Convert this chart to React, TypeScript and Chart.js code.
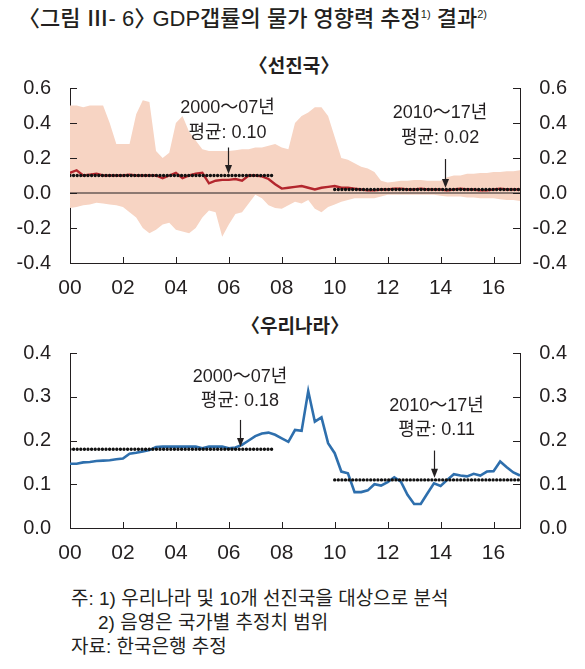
import React, { useEffect, useRef } from "react";
import { Chart, registerables } from "chart.js";

Chart.register(...registerables);

// ---------- DATA (quarterly, 2000Q1 .. 2017Q1) ----------
const START_YEAR = 2000;
const X_MAX = 17; // years after 2000 at right edge of plot
const X_TICKS = [0, 2, 4, 6, 8, 10, 12, 14, 16];
const X_TICK_LABELS = ["00", "02", "04", "06", "08", "10", "12", "14", "16"];

const ADV_TICKS = [-0.4, -0.2, 0.0, 0.2, 0.4, 0.6];
const KOR_TICKS = [0.0, 0.1, 0.2, 0.3, 0.4];

// 선진국 추정치 (평균)
const ADV_EST = [
  0.115, 0.13, 0.10, 0.105, 0.11, 0.10, 0.10, 0.10,
  0.10, 0.105, 0.10, 0.10, 0.10, 0.10, 0.085, 0.10,
  0.115, 0.085, 0.10, 0.11, 0.115, 0.055, 0.07, 0.075,
  0.075, 0.08, 0.07, 0.10, 0.10, 0.095, 0.08, 0.05,
  0.025, 0.03, 0.035, 0.04, 0.03, 0.02, 0.03, 0.035,
  0.04, 0.03, 0.03, 0.025, 0.02, 0.015, 0.015, 0.02,
  0.02, 0.025, 0.025, 0.02, 0.02, 0.025, 0.02, 0.02,
  0.02, 0.015, 0.02, 0.025, 0.02, 0.02, 0.015, 0.015,
  0.02, 0.025, 0.02, 0.02, 0.02,
];
// 국가별 추정치 범위 상단
const ADV_UPPER = [
  0.50, 0.50, 0.49, 0.50, 0.50, 0.50, 0.40, 0.28,
  0.28, 0.28, 0.45, 0.53, 0.52, 0.24, 0.20, 0.23,
  0.40, 0.44, 0.35, 0.30, 0.25, 0.24, 0.24, 0.24,
  0.24, 0.245, 0.25, 0.25, 0.26, 0.26, 0.27, 0.28,
  0.26, 0.25, 0.40, 0.44, 0.46, 0.49, 0.49, 0.44,
  0.32, 0.20, 0.19, 0.17, 0.15, 0.14, 0.12, 0.07,
  0.06, 0.065, 0.07, 0.07, 0.075, 0.075, 0.07, 0.07,
  0.07, 0.09, 0.10, 0.10, 0.11, 0.11, 0.115, 0.115,
  0.12, 0.12, 0.125, 0.125, 0.13,
];
// 국가별 추정치 범위 하단
const ADV_LOWER = [
  -0.085, -0.08, -0.07, -0.065, -0.055, -0.06, -0.065, -0.07,
  -0.08, -0.11, -0.14, -0.20, -0.23, -0.21, -0.18, -0.17,
  -0.21, -0.22, -0.23, -0.20, -0.14, -0.10, -0.11, -0.25,
  -0.18, -0.12, -0.11, -0.06, -0.01, -0.03, -0.07, -0.085,
  -0.09, -0.07, -0.05, -0.06, -0.04, -0.09, -0.11, -0.08,
  -0.065, -0.05, -0.04, -0.03, -0.03, -0.03, -0.03, -0.02,
  -0.01, -0.01, -0.01, -0.01, -0.01, -0.01, -0.01, -0.01,
  -0.015, -0.02, -0.02, -0.02, -0.025, -0.025, -0.03, -0.03,
  -0.03, -0.035, -0.04, -0.04, -0.045,
];
// 우리나라 추정치
const KOR_EST = [
  0.147, 0.147, 0.150, 0.151, 0.153, 0.154, 0.155, 0.157,
  0.159, 0.170, 0.172, 0.175, 0.178, 0.185, 0.186, 0.186,
  0.186, 0.186, 0.186, 0.186, 0.182, 0.186, 0.186, 0.186,
  0.182, 0.184, 0.190, 0.200, 0.210, 0.216, 0.218, 0.213,
  0.205, 0.197, 0.224, 0.222, 0.313, 0.243, 0.253, 0.194,
  0.171, 0.129, 0.125, 0.082, 0.082, 0.086, 0.100, 0.097,
  0.105, 0.116, 0.106, 0.076, 0.055, 0.055, 0.079, 0.102,
  0.096, 0.110, 0.123, 0.120, 0.118, 0.124, 0.120, 0.129,
  0.130, 0.152, 0.139, 0.127, 0.120,
];

// period averages
const ADV_AVG_0007 = { from: 0, to: 7.75, value: 0.1 };
const ADV_AVG_1017 = { from: 10, to: 17, value: 0.02 };
const KOR_AVG_0007 = { from: 0, to: 7.75, value: 0.18 };
const KOR_AVG_1017 = { from: 10, to: 17, value: 0.11 };

const ADV_NOTES = [
  { x: 5.97, top: 0.26, tip: 0.108, textX: 5.95, y1: 0.487, y2: 0.345, line1: "2000～07년", line2: "평균: 0.10" },
  { x: 14.17, top: 0.194, tip: 0.028, textX: 13.98, y1: 0.459, y2: 0.314, line1: "2010～17년", line2: "평균: 0.02" },
];
const KOR_NOTES = [
  { x: 6.42, top: 0.247, tip: 0.185, textX: 6.42, y1: 0.345, y2: 0.29, line1: "2000～07년", line2: "평균: 0.18" },
  { x: 13.75, top: 0.177, tip: 0.115, textX: 13.85, y1: 0.279, y2: 0.224, line1: "2010～17년", line2: "평균: 0.11" },
];

// ---------- STYLE ----------
const INK = "#231f20";
const RED = "#b3262d";
const BLUE = "#2e6fad";
const BAND = "#f7d4c3";
const NUM_FONT = '"Liberation Sans", "Noto Sans CJK KR", sans-serif';

const toPoints = (vals: number[]) => vals.map((v, i) => ({ x: i / 4, y: v }));
const avgLine = (a: { from: number; to: number; value: number }) => [
  { x: a.from, y: a.value },
  { x: a.to, y: a.value },
];

const frameTicksPlugin = {
  id: "frameTicks",
  afterDatasetsDraw(chart: any) {
    const { ctx, chartArea, scales } = chart;
    ctx.save();
    ctx.strokeStyle = INK;
    ctx.lineWidth = 1;
    const xs = scales.x;
    X_TICKS.forEach((v) => {
      if (v === 0) return;
      const px = Math.round(xs.getPixelForValue(v)) + 0.5;
      ctx.beginPath();
      ctx.moveTo(px, chartArea.bottom);
      ctx.lineTo(px, chartArea.bottom - 6);
      ctx.stroke();
    });
    const ys = scales.y;
    const yt: number[] = chart.options.plugins.frameTicks.ticks;
    yt.forEach((v) => {
      if (v === ys.min) return;
      const py = Math.round(ys.getPixelForValue(v)) + 0.5;
      ctx.beginPath();
      ctx.moveTo(chartArea.left, py);
      ctx.lineTo(chartArea.left + 7, py);
      ctx.moveTo(chartArea.right, py);
      ctx.lineTo(chartArea.right - 7, py);
      ctx.stroke();
    });
    ctx.restore();
  },
};

const notesPlugin = {
  id: "notes",
  afterDatasetsDraw(chart: any) {
    const items = chart.options.plugins.notes.items;
    const { ctx, scales } = chart;
    const xs = scales.x;
    const ys = scales.y;
    ctx.save();
    ctx.fillStyle = INK;
    ctx.strokeStyle = INK;
    ctx.font = `18px ${NUM_FONT}`;
    ctx.textAlign = "center";
    ctx.textBaseline = "middle";
    items.forEach((n: any) => {
      const tx = xs.getPixelForValue(n.textX);
      ctx.fillText(n.line1, tx, ys.getPixelForValue(n.y1));
      ctx.fillText(n.line2, tx, ys.getPixelForValue(n.y2));
      const ax = Math.round(xs.getPixelForValue(n.x)) + 0.5;
      const yTop = ys.getPixelForValue(n.top);
      const yTip = ys.getPixelForValue(n.tip);
      ctx.lineWidth = 1.2;
      ctx.beginPath();
      ctx.moveTo(ax, yTop);
      ctx.lineTo(ax, yTip - 8);
      ctx.stroke();
      ctx.beginPath();
      ctx.moveTo(ax - 3.5, yTip - 9);
      ctx.lineTo(ax + 3.5, yTip - 9);
      ctx.lineTo(ax, yTip);
      ctx.closePath();
      ctx.fill();
    });
    ctx.restore();
  },
};

function axes(min: number, max: number, ticks: number[]) {
  const tickLabel = (v: number) => v.toFixed(1);
  const yBase = {
    min,
    max,
    afterBuildTicks: (s: any) => {
      s.ticks = ticks.map((v) => ({ value: v }));
    },
    grid: { display: false },
    border: { display: true, color: INK, width: 1 },
  };
  return {
    x: {
      type: "linear",
      min: 0,
      max: X_MAX,
      afterBuildTicks: (s: any) => {
        s.ticks = X_TICKS.map((v) => ({ value: v }));
      },
      afterFit: (s: any) => {
        s.height = 47;
        s.paddingLeft = 0;
        s.paddingRight = 0;
      },
      grid: { display: false },
      border: { display: true, color: INK, width: 1 },
      ticks: {
        autoSkip: false,
        maxRotation: 0,
        padding: 5,
        color: INK,
        font: { family: NUM_FONT, size: 21 },
        callback: (v: number) => X_TICK_LABELS[X_TICKS.indexOf(v)] ?? "",
      },
    },
    y: {
      ...yBase,
      position: "left",
      afterFit: (s: any) => {
        s.width = 70;
        s.paddingTop = 0;
        s.paddingBottom = 0;
      },
      ticks: {
        padding: 11,
        color: INK,
        font: { family: NUM_FONT, size: 20 },
        callback: tickLabel,
      },
    },
    y2: {
      ...yBase,
      position: "right",
      afterFit: (s: any) => {
        s.width = 47;
        s.paddingTop = 0;
        s.paddingBottom = 0;
      },
      ticks: {
        padding: 0,
        crossAlign: "far",
        color: INK,
        font: { family: NUM_FONT, size: 20 },
        callback: tickLabel,
      },
    },
  };
}

const dotted = (data: any[]) => ({
  data,
  borderColor: "#111",
  borderWidth: 3.4,
  borderDash: [0, 3.6],
  borderCapStyle: "round",
  pointRadius: 0,
  fill: false,
  yAxisID: "y",
});

function useChart(ref: React.RefObject<HTMLCanvasElement>, build: () => any) {
  useEffect(() => {
    if (!ref.current) return;
    const chart = new Chart(ref.current, build());
    return () => chart.destroy();
  }, []);
}

const baseOptions = (notes: any[], ticks: number[], min: number, max: number) => ({
  responsive: false,
  animation: false,
  events: [],
  layout: { padding: { top: 13, right: 18, bottom: 0, left: 0 } },
  elements: { line: { tension: 0 } },
  plugins: {
    legend: { display: false },
    tooltip: { enabled: false },
    notes: { items: notes },
    frameTicks: { ticks },
  },
  scales: axes(min, max, ticks),
});

function AdvancedChart() {
  const ref = useRef<HTMLCanvasElement>(null);
  useChart(ref, () => ({
    type: "line",
    data: {
      datasets: [
        dotted(avgLine(ADV_AVG_0007)),
        dotted(avgLine(ADV_AVG_1017)),
        {
          data: toPoints(ADV_EST),
          borderColor: RED,
          borderWidth: 2.4,
          pointRadius: 0,
          fill: false,
          yAxisID: "y",
        },
        {
          data: [
            { x: 0, y: 0 },
            { x: X_MAX, y: 0 },
          ],
          borderColor: INK,
          borderWidth: 1,
          pointRadius: 0,
          fill: false,
          yAxisID: "y",
        },
        {
          data: toPoints(ADV_UPPER),
          borderWidth: 0,
          borderColor: "rgba(0,0,0,0)",
          backgroundColor: BAND,
          pointRadius: 0,
          fill: "+1",
          yAxisID: "y",
        },
        {
          data: toPoints(ADV_LOWER),
          borderWidth: 0,
          borderColor: "rgba(0,0,0,0)",
          pointRadius: 0,
          fill: false,
          yAxisID: "y",
        },
      ],
    },
    options: baseOptions(ADV_NOTES, ADV_TICKS, -0.4, 0.6),
    plugins: [frameTicksPlugin, notesPlugin],
  }));
  return <canvas ref={ref} width={585} height={235} style={{ width: 585, height: 235, display: "block" }} />;
}

function KoreaChart() {
  const ref = useRef<HTMLCanvasElement>(null);
  useChart(ref, () => ({
    type: "line",
    data: {
      datasets: [
        dotted(avgLine(KOR_AVG_0007)),
        dotted(avgLine(KOR_AVG_1017)),
        {
          data: toPoints(KOR_EST),
          borderColor: BLUE,
          borderWidth: 2.6,
          pointRadius: 0,
          fill: false,
          yAxisID: "y",
        },
      ],
    },
    options: baseOptions(KOR_NOTES, KOR_TICKS, 0, 0.4),
    plugins: [frameTicksPlugin, notesPlugin],
  }));
  return <canvas ref={ref} width={585} height={235} style={{ width: 585, height: 235, display: "block" }} />;
}

const TEXT_FONT = '"Liberation Sans", "Noto Sans CJK KR", sans-serif';

export default function App() {
  const abs = (top: number, left: number, extra: React.CSSProperties = {}): React.CSSProperties => ({
    position: "absolute",
    top,
    left,
    whiteSpace: "nowrap",
    color: INK,
    fontFamily: TEXT_FONT,
    ...extra,
  });
  const sup: React.CSSProperties = { fontSize: 11, verticalAlign: "8px", lineHeight: 0 };
  return (
    <div style={{ position: "absolute", left: 0, top: 0, width: 585, height: 669, background: "#fff", overflow: "hidden" }}>
      <div style={abs(4, 18, { fontSize: 22, lineHeight: "30px", fontWeight: 500 })}>
        〈그림 Ⅲ- 6<span style={{ marginRight: -10 }}>〉</span> GDP갭률의 물가 영향력 추정
        <sup style={sup}>1)</sup> 결과
        <sup style={sup}>2)</sup>
      </div>
      <div style={abs(54, 0, { width: 588, textAlign: "center", fontSize: 19, lineHeight: "26px", fontWeight: 700 })}>〈선진국〉</div>
      <div style={{ position: "absolute", left: 0, top: 75 }}>
        <AdvancedChart />
      </div>
      <div style={abs(314, 0, { width: 590, textAlign: "center", fontSize: 19, lineHeight: "26px", fontWeight: 700 })}>〈우리나라〉</div>
      <div style={{ position: "absolute", left: 0, top: 340 }}>
        <KoreaChart />
      </div>
      <div style={abs(587, 71, { fontSize: 19, lineHeight: "24px" })}>주: 1) 우리나라 및 10개 선진국을 대상으로 분석</div>
      <div style={abs(611, 98, { fontSize: 19, lineHeight: "24px" })}>2) 음영은 국가별 추정치 범위</div>
      <div style={abs(635, 71, { fontSize: 19, lineHeight: "24px" })}>자료: 한국은행 추정</div>
    </div>
  );
}
